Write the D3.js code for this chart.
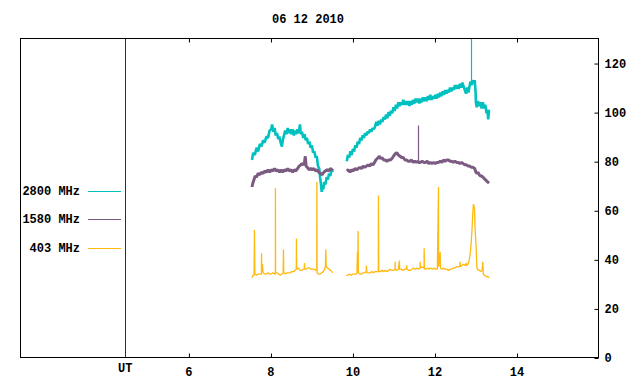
<!DOCTYPE html>
<html>
<head>
<meta charset="utf-8">
<script src="https://cdn.jsdelivr.net/npm/d3@7"></script>
<style>
  html, body { margin: 0; padding: 0; background: #fff; }
  svg { display: block; }
  text { font-family: "Liberation Mono", "DejaVu Sans Mono", monospace; font-weight: bold; font-size: 12px; fill: #000; }
</style>
</head>
<body>
<svg id="chart" width="640" height="384"></svg>
<script>
// ---------------- DATA ----------------
const title = "06 12 2010";
const xTicks = [6, 8, 10, 12, 14];
const yTicks = [0, 20, 40, 60, 80, 100, 120];
const utMarker = 4.46;           // hour of the "UT" marker line
const legendLabels = ["2800 MHz", "1580 MHz", "403 MHz"];
const seriesColors = ["#00c0c0", "#7b5b82", "#ffb90f"];

// [hour, value]; null marks a data gap
const flux2800 = [
 [7.55,80.5],[7.58,83.5],[7.62,82.5],[7.66,85.5],[7.70,84],[7.74,87],[7.78,86],[7.82,88.5],[7.86,87.5],[7.90,90],
 [7.94,89.5],[7.98,92.5],[8.02,93],[8.04,95],[8.07,92],[8.10,93.5],[8.13,90.5],[8.16,91.5],[8.19,89],[8.22,90],
 [8.25,87.5],[8.28,86],[8.30,88.5],[8.33,90.5],[8.36,92.5],[8.39,91],[8.42,93.5],[8.45,91.5],[8.48,93],[8.51,91],
 [8.54,93],[8.57,90.5],[8.60,92.5],[8.63,91],[8.66,93],[8.69,91.5],[8.72,95],[8.74,91],[8.77,92],[8.80,89.5],
 [8.83,91],[8.86,88.5],[8.89,89.5],[8.92,87],[8.95,88],[8.98,85.5],[9.01,86.5],[9.04,83.5],[9.07,84],[9.10,81.5],
 [9.13,82],[9.16,78],[9.19,77],[9.21,73.5],[9.23,71],[9.25,67.5],[9.27,70],[9.29,68.5],[9.31,71.5],[9.34,70.5],
 [9.37,73.5],[9.40,72.5],[9.43,75],[9.46,74],[9.49,76.5],[9.52,75.5],
 null,
 [9.86,80],[9.89,82.5],[9.92,81.5],[9.95,84],[9.98,82.5],[10.01,85],[10.04,84],[10.07,86.5],[10.10,85.5],[10.13,88],
 [10.16,87],[10.19,89.5],[10.22,88.5],[10.25,90.5],[10.28,89.5],[10.31,91.5],[10.34,90.5],[10.37,92],[10.40,91.5],[10.43,93],
 [10.46,92],[10.49,93.5],[10.52,93],[10.55,94],[10.58,96],[10.61,94.5],[10.64,96.5],[10.67,95],[10.70,97],[10.73,96],
 [10.76,98],[10.79,97],[10.82,99],[10.85,97.5],[10.88,100],[10.91,98.5],[10.94,100.5],[10.97,99.5],[11.00,102],[11.03,100.5],
 [11.06,103],[11.09,101.5],[11.12,104],[11.15,102.5],[11.18,104],[11.21,103],[11.24,105],[11.27,103],[11.30,104.5],[11.33,103],
 [11.36,104.5],[11.39,102.5],[11.42,104.5],[11.45,103],[11.48,105],[11.51,103.5],[11.54,105.5],[11.57,104],[11.60,105.5],[11.63,103.5],
 [11.66,105.5],[11.69,104],[11.72,106],[11.75,104.5],[11.78,106],[11.81,104.5],[11.84,106.5],[11.87,105],[11.90,107],[11.93,105],
 [11.96,106.5],[11.99,105.5],[12.02,107],[12.05,105.5],[12.08,107.5],[12.11,106],[12.14,108],[12.17,106.5],[12.20,108.5],[12.23,107],
 [12.26,109],[12.29,107.5],[12.32,109],[12.35,108],[12.38,110],[12.41,108.5],[12.44,110],[12.47,109],[12.50,111],[12.53,109.5],
 [12.56,111],[12.59,109.5],[12.62,111.5],[12.65,110],[12.68,112],[12.71,110.5],[12.74,109],[12.77,107.5],[12.80,110],[12.83,108],
 [12.86,111],[12.88,112.5],[12.905,111],[12.93,113],[12.96,111.5],[12.98,113],[13.00,109],[13.01,104],[13.03,102],
 [13.06,104.5],[13.09,102.5],[13.12,104],[13.15,101.5],[13.18,104],[13.21,101.5],[13.24,103],[13.27,99.5],[13.29,101],[13.31,97],
 [13.33,101]
];
// single-sample spikes: [hour, base value, peak value]
const spikes2800 = [[12.895, 112, 140]];

const flux1580 = [
 [7.55,69.5],[7.57,71],[7.60,72.5],[7.63,74],[7.66,73.5],[7.70,75],[7.74,74.5],[7.78,75.5],[7.82,75],[7.86,76],
 [7.90,75.5],[7.94,76.5],[7.98,75.5],[8.02,76.5],[8.06,76],[8.10,77],[8.14,76],[8.18,76.5],[8.22,75.5],[8.26,76.5],
 [8.30,75.5],[8.34,76.5],[8.38,76],[8.42,77],[8.46,76],[8.50,76.5],[8.54,75.5],[8.58,76.5],[8.62,76],[8.66,77],
 [8.70,78],[8.74,78.5],[8.77,79],[8.80,78.5],[8.83,79.5],[8.85,82],[8.87,78],[8.90,77.5],[8.94,76.5],[8.98,77],
 [9.02,76.5],[9.06,77],[9.10,76],[9.14,76.5],[9.18,75.5],[9.22,75],[9.26,74.5],[9.30,75.5],[9.34,76],[9.38,76.5],
 [9.42,76],[9.46,77],[9.50,76.5],[9.52,77],
 null,
 [9.86,76],[9.90,76.5],[9.94,75.5],[9.98,76.5],[10.02,76],[10.06,77],[10.10,76.5],[10.14,77],[10.18,77.5],[10.22,77],
 [10.26,78],[10.30,77.5],[10.34,78],[10.38,78.5],[10.42,78],[10.46,79],[10.50,78.5],[10.54,79.5],[10.57,80.5],[10.60,81],
 [10.63,81.5],[10.66,82],[10.69,81],[10.72,81.5],[10.76,80.5],[10.80,80.5],[10.84,80],[10.88,80.5],[10.92,80.5],[10.96,81],
 [11.00,82],[11.04,83],[11.08,83.5],[11.12,82.5],[11.16,82],[11.20,81.5],[11.24,81.5],[11.28,80.5],[11.32,80.5],[11.36,80],
 [11.40,80],[11.44,80.5],[11.48,79.5],[11.52,80],[11.56,79.5],[11.60,80],[11.61,79.5],[11.65,79.5],[11.70,80],
 [11.74,79.5],[11.78,79.5],[11.82,80],[11.86,79],[11.90,79.5],[11.94,79],[11.98,79.5],[12.02,79],[12.06,79.5],[12.10,79.5],
 [12.14,80],[12.18,79.5],[12.22,80.5],[12.26,80],[12.30,80.5],[12.34,80.5],[12.38,80],[12.42,80],[12.46,79.5],[12.50,80],
 [12.54,79.5],[12.58,79.5],[12.62,79],[12.66,79.5],[12.70,79],[12.74,78.5],[12.78,78.5],[12.82,78],[12.86,78],[12.90,77.5],
 [12.94,77.5],[12.98,77],[13.00,76],[13.03,75],[13.06,75.5],[13.09,74.5],[13.12,74],[13.15,74],[13.18,73.5],[13.21,73],
 [13.24,72.5],[13.27,72],[13.30,71.5],[13.33,71]
];
const spikes1580 = [[11.605, 80, 94.5]];

const flux403 = [
 [7.55,32.5],[7.57,33.5],[7.60,33.5],[7.61,52],[7.62,34],[7.66,33.5],[7.70,34],[7.74,34],[7.78,34],[7.782,42.5],
 [7.79,35],[7.805,38],[7.82,34.5],[7.86,34],[7.90,34],[7.94,34.5],[7.98,34],[8.02,34],[8.06,34.5],[8.10,34],
 [8.12,34],[8.122,69],[8.125,34.5],[8.16,34.5],[8.20,34],[8.24,33.5],[8.28,34],[8.31,34.5],[8.317,44],[8.325,34.5],
 [8.36,34],[8.40,34.5],[8.44,34.5],[8.48,34.5],[8.52,35],[8.56,35],[8.60,35.5],[8.63,36],[8.634,48.5],[8.64,36],
 [8.68,36.5],[8.72,35.5],[8.76,35.5],[8.80,36],[8.825,36],[8.829,38.5],[8.835,36],[8.87,36],[8.91,36.5],[8.95,36.5],
 [8.99,36],[9.03,36],[9.07,36],[9.11,35.5],[9.13,35.5],[9.132,71.5],[9.138,34.5],[9.17,34],[9.21,34],[9.25,34.5],
 [9.29,35],[9.32,36],[9.34,37],[9.351,44],[9.36,37],[9.39,36.5],[9.43,36],[9.47,35.5],[9.50,35],[9.52,34.5],
 null,
 [9.85,33.5],[9.89,33.5],[9.93,34],[9.97,33.5],[10.01,34],[10.05,34],[10.09,34],[10.11,34.5],[10.12,43],[10.13,36],
 [10.137,51.5],[10.145,34.5],[10.18,34],[10.22,34],[10.26,34.5],[10.30,34.5],[10.335,35],[10.341,37.5],[10.35,34.5],[10.39,34.5],
 [10.43,34.5],[10.47,35],[10.51,34.5],[10.55,35],[10.59,35],[10.63,35],[10.634,66],[10.64,35],[10.68,35],[10.72,35.5],
 [10.76,35],[10.80,35.5],[10.84,35],[10.88,35.5],[10.92,36],[10.96,35.5],[11.00,35.5],[11.04,36],[11.041,39],[11.045,36],
 [11.08,35.5],[11.12,36],[11.146,39.5],[11.15,36],[11.19,36],[11.23,35.5],[11.27,36],[11.31,36],[11.327,37.5],[11.33,36],
 [11.37,35.5],[11.41,35.5],[11.45,36],[11.49,36.5],[11.53,36],[11.57,36.5],[11.61,36],[11.65,36.5],[11.651,39],[11.66,36.5],
 [11.70,37],[11.745,36.5],[11.749,44.5],[11.755,36],[11.79,36],[11.83,36.5],[11.87,36],[11.91,36.5],[11.95,36],[11.99,36.5],
 [12.03,36],[12.07,36],[12.098,69.5],[12.10,37],[12.139,43],[12.145,36.5],[12.18,36],[12.22,36.5],[12.26,36],[12.30,36],
 [12.34,35.5],[12.38,36],[12.42,36],[12.46,36.5],[12.50,36.5],[12.54,37],[12.58,37],[12.62,37],[12.627,39],[12.635,37],
 [12.67,37.5],[12.71,38],[12.75,37.5],[12.773,38.5],[12.78,37.5],[12.82,38],[12.85,40],[12.875,43],[12.895,46.5],[12.915,52],
 [12.935,59],[12.95,62.5],[12.975,61],[12.99,53],[13.015,45],[13.035,36.5],[13.07,35.5],[13.10,35.5],[13.13,35],[13.16,35.5],
 [13.18,39],[13.19,34],[13.22,33.5],[13.26,33],[13.30,33],[13.34,32.5]
];

// ---------------- DRAW ----------------
const svg = d3.select("#chart");
const L = 20.5, R = 598.5, T = 38.5, B = 357.5;
const x = d3.scaleLinear().domain([1.9, 16]).range([L - 0.2, R]);
const y = d3.scaleLinear().domain([0, 130]).range([B, T]);

svg.append("defs").append("clipPath").attr("id", "plotclip")
  .append("rect").attr("x", L).attr("y", T).attr("width", R - L).attr("height", B - T);

// title
svg.append("text").attr("x", 308).attr("y", 23).attr("text-anchor", "middle").text(title);

// series
const line = d3.line().defined(d => d !== null).x(d => x(d[0])).y(d => y(d[1]));
const plot = svg.append("g").attr("clip-path", "url(#plotclip)");
const allSeries = [flux2800, flux1580, flux403];
const allSpikes = [spikes2800, spikes1580, []];
const widths = [2.6, 3, 1.3];
allSeries.forEach((s, i) => {
  plot.append("path").datum(s).attr("d", line)
    .attr("fill", "none").attr("stroke", seriesColors[i])
    .attr("stroke-width", widths[i]).attr("stroke-linejoin", "bevel");
  plot.selectAll(null).data(allSpikes[i]).enter().append("line")
    .attr("x1", d => Math.round(x(d[0])) + 0.5).attr("x2", d => Math.round(x(d[0])) + 0.5)
    .attr("y1", d => y(d[1])).attr("y2", d => y(d[2]))
    .attr("stroke", seriesColors[i]).attr("stroke-width", 1.2);
});

// UT marker
svg.append("line").attr("x1", Math.round(x(utMarker)) + 0.5).attr("x2", Math.round(x(utMarker)) + 0.5)
  .attr("y1", T).attr("y2", B).attr("stroke", "#990000").attr("stroke-width", 1);
svg.append("text").attr("x", x(utMarker)).attr("y", 372).attr("text-anchor", "middle").text("UT");

// frame
svg.append("rect").attr("x", L).attr("y", T).attr("width", R - L).attr("height", B - T)
  .attr("fill", "none").attr("stroke", "#000").attr("stroke-width", 1);

// bottom axis (ticks inward, mirrored on top)
const xb = svg.append("g").attr("transform", `translate(0,${B})`)
  .call(d3.axisBottom(x).tickValues(xTicks).tickSize(-4).tickPadding(0).tickFormat(d3.format("d")));
xb.select(".domain").remove();
xb.selectAll("line").attr("stroke", "#000").attr("transform", "translate(0.5,0)");
xb.selectAll("text").attr("y", 18).attr("dy", 0).style("font-size", "12px").style("font-family", null);

const xt = svg.append("g").attr("transform", `translate(0,${T})`)
  .call(d3.axisTop(x).tickValues(xTicks).tickSize(-4).tickFormat(""));
xt.select(".domain").remove();
xt.selectAll("line").attr("stroke", "#000").attr("transform", "translate(0.5,0)");

// right axis
const yr = svg.append("g").attr("transform", `translate(${R},0)`)
  .call(d3.axisRight(y).tickValues(yTicks).tickSize(-4).tickPadding(6).tickFormat(d3.format("d")));
yr.select(".domain").remove();
yr.selectAll("line").attr("stroke", "#000").attr("transform", "translate(0,0.5)");
yr.selectAll("text").attr("x", 6).attr("dy", "0.35em").style("font-size", "12px").style("font-family", null);

// legend
const legY = [191, 219, 248];
legendLabels.forEach((lab, i) => {
  svg.append("text").attr("x", 80).attr("y", legY[i]).attr("dy", "0.35em")
    .attr("text-anchor", "end").text(lab);
  svg.append("line").attr("x1", 88).attr("x2", 121).attr("y1", legY[i] + 0.5).attr("y2", legY[i] + 0.5)
    .attr("stroke", seriesColors[i]).attr("stroke-width", 1);
});
</script>
</body>
</html>
